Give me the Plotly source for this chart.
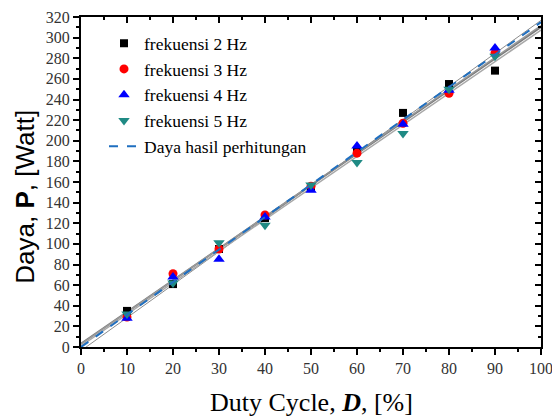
import numpy as np
import plotly.graph_objects as go

duty = [10, 20, 30, 40, 50, 60, 70, 80, 90]
p_2hz = [35, 61, 95, 125, 155, 190, 227, 255, 268]
p_3hz = [29, 71, 95, 128, 156, 188, 217, 246, 285]
p_4hz = [28, 68, 85, 126, 152, 195, 216, 249, 290]
p_5hz = [32, 62, 101, 118, 157, 179, 207, 250, 282]
calc_duty = [0, 100]
calc_power = [0, 315]

series = [
    ("frekuensi 2 Hz", p_2hz, "square", "#000000", 8),
    ("frekuensi 3 Hz", p_3hz, "circle", "#ff0000", 9),
    ("frekuensi 4 Hz", p_4hz, "triangle-up", "#0000ff", 10),
    ("frekuensi 5 Hz", p_5hz, "triangle-down", "#1f8a84", 10),
]

fig = go.Figure()

# fitted lines (grey)
fit_x = np.array([0, 100])
fit_styles = [("#7a7a7a", 2), ("#9a9a9a", 1.5), ("#8c8c8c", 1), ("#a8a8a8", 1.5)]
for (name, vals, sym, col, sz), (lc, lw) in zip(series, fit_styles):
    k, b = np.polyfit(duty, vals, 1)
    fig.add_trace(go.Scatter(x=fit_x, y=k * fit_x + b, mode="lines",
                             line=dict(color=lc, width=lw), showlegend=False,
                             hoverinfo="skip"))

for name, vals, sym, col, sz in series:
    fig.add_trace(go.Scatter(x=duty, y=vals, mode="markers", name=name,
                             marker=dict(symbol=sym, color=col, size=sz)))

fig.add_trace(go.Scatter(x=calc_duty, y=calc_power, mode="lines",
                         name="Daya hasil perhitungan",
                         line=dict(color="#1f6fc0", width=2, dash="dash")))

# invisible trace for mirrored axes
fig.add_trace(go.Scatter(x=[0], y=[0], xaxis="x2", yaxis="y2", mode="markers",
                         marker=dict(opacity=0), showlegend=False, hoverinfo="skip"))

serif = "Liberation Serif"
axcommon = dict(showgrid=False, zeroline=False, showline=True, linecolor="black",
                linewidth=2, ticklen=6, tickwidth=2, tickcolor="black",
                ticklabeloverflow="allow", automargin=False,
                tickfont=dict(family=serif, size=16, color="#333333"))

fig.update_layout(
    width=552, height=419,
    margin=dict(l=81, r=11, t=17, b=72, autoexpand=False),
    plot_bgcolor="white", paper_bgcolor="white",
    xaxis=dict(range=[0, 100], tickmode="linear", tick0=0, dtick=10, ticks="outside",
               minor=dict(dtick=5, ticks="outside", ticklen=3, tickwidth=2, tickcolor="black"),
               **axcommon),
    yaxis=dict(range=[0, 320], tickmode="linear", tick0=0, dtick=20, ticks="outside",
               minor=dict(dtick=10, ticks="outside", ticklen=3, tickwidth=2, tickcolor="black"),
               **axcommon),
    xaxis2=dict(range=[0, 100], overlaying="x", side="top", showticklabels=False,
                tickmode="linear", tick0=0, dtick=10, ticks="inside", automargin=False,
                showgrid=False, zeroline=False, showline=True, linecolor="black", linewidth=2,
                ticklen=6, tickwidth=2, tickcolor="black",
                minor=dict(dtick=5, ticks="inside", ticklen=3, tickwidth=2, tickcolor="black")),
    yaxis2=dict(range=[0, 320], overlaying="y", side="right", showticklabels=False,
                tickmode="linear", tick0=0, dtick=20, ticks="inside", automargin=False,
                showgrid=False, zeroline=False, showline=True, linecolor="black", linewidth=2,
                ticklen=6, tickwidth=2, tickcolor="black",
                minor=dict(dtick=10, ticks="inside", ticklen=3, tickwidth=2, tickcolor="black")),
    legend=dict(x=0.05, y=0.975, xanchor="left", yanchor="top",
                bgcolor="rgba(0,0,0,0)", tracegroupgap=0, itemwidth=30,
                font=dict(family=serif, size=17.5, color="black")),
    showlegend=True,
    annotations=[
        dict(text="Duty Cycle, <b><i>D</i></b>, [%]", xref="paper", yref="paper",
             x=0.5, y=-0.167, xanchor="center", yanchor="middle", showarrow=False,
             font=dict(family=serif, size=26, color="black")),
        dict(text="Daya, <b>P</b>, [Watt]", xref="paper", yref="paper",
             x=-0.122, y=0.455, xanchor="center", yanchor="middle", showarrow=False,
             textangle=-90, font=dict(family="Liberation Sans", size=26, color="black")),
    ],
)

fig.write_html("out.html")
